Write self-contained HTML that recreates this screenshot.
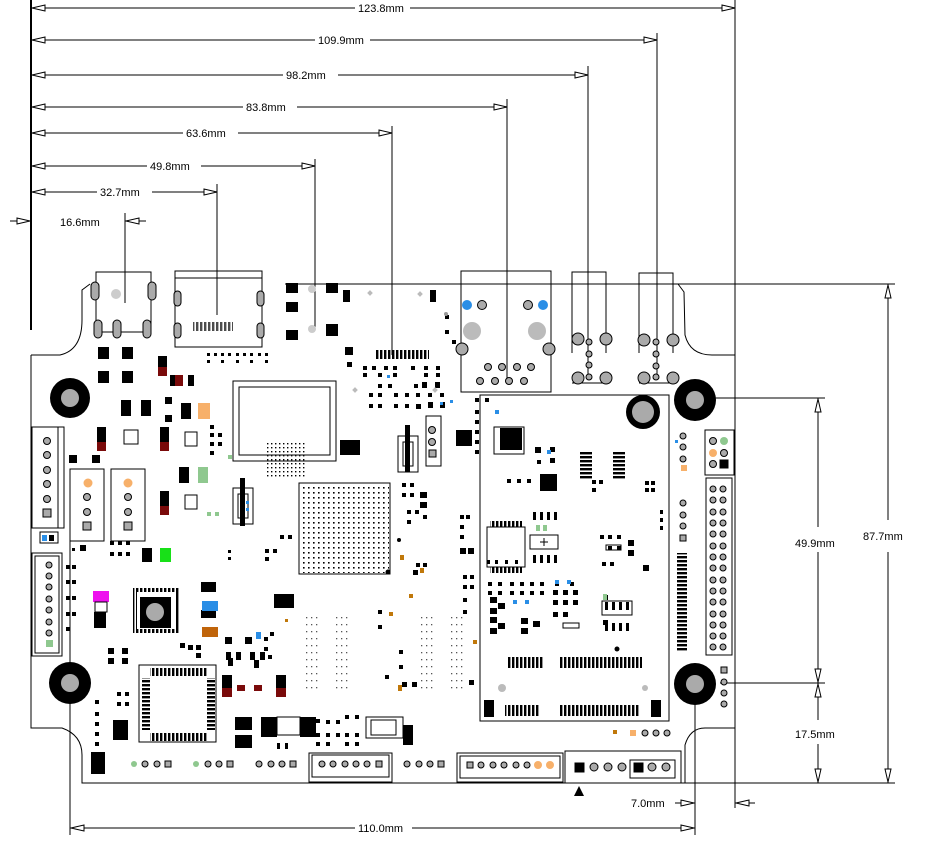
<!DOCTYPE html>
<html><head><meta charset="utf-8"><style>
html,body{margin:0;padding:0;background:#fff;width:927px;height:844px;overflow:hidden}
svg{display:block}
text{font-family:"Liberation Sans",sans-serif;font-size:11px;fill:#000}
</style></head><body>
<svg width="927" height="844" viewBox="0 0 927 844" xmlns="http://www.w3.org/2000/svg">
<defs>
<pattern id="bga" x="302" y="486" width="5" height="5" patternUnits="userSpaceOnUse"><rect x="1" y="1" width="1.6" height="1.6" fill="#000"/></pattern>
<pattern id="bga2" x="266" y="442" width="4" height="4" patternUnits="userSpaceOnUse"><rect x="1" y="1" width="1.4" height="1.4" fill="#000"/></pattern>
<pattern id="pin" x="0" y="0" width="4" height="4" patternUnits="userSpaceOnUse"><rect x="0" y="0" width="2.4" height="4" fill="#000"/></pattern>
<pattern id="pinv" x="0" y="0" width="4" height="4" patternUnits="userSpaceOnUse"><rect x="0" y="0" width="4" height="2.4" fill="#000"/></pattern>
<pattern id="dots" x="0" y="0" width="5" height="7" patternUnits="userSpaceOnUse"><rect x="1" y="1" width="1.3" height="1.3" fill="#555"/></pattern>
</defs>
<g stroke="#000" stroke-width="1" fill="none">
<!-- top dimension lines -->
<line x1="31" y1="0" x2="31" y2="330" stroke-width="2"/>
<line x1="31" y1="8" x2="355" y2="8"/><line x1="410" y1="8" x2="735" y2="8"/>
<line x1="31" y1="40" x2="315" y2="40"/><line x1="370" y1="40" x2="657" y2="40"/>
<line x1="31" y1="75" x2="283" y2="75"/><line x1="338" y1="75" x2="588" y2="75"/>
<line x1="31" y1="107" x2="243" y2="107"/><line x1="297" y1="107" x2="507" y2="107"/>
<line x1="31" y1="133" x2="183" y2="133"/><line x1="238" y1="133" x2="392" y2="133"/>
<line x1="31" y1="166" x2="147" y2="166"/><line x1="201" y1="166" x2="315" y2="166"/>
<line x1="31" y1="192" x2="97" y2="192"/><line x1="152" y1="192" x2="217" y2="192"/>
<line x1="10" y1="221" x2="31" y2="221"/><line x1="125" y1="221" x2="146" y2="221"/>
<line x1="735" y1="0" x2="735" y2="808"/>
<line x1="657" y1="33" x2="657" y2="378"/>
<line x1="588" y1="66" x2="588" y2="378"/>
<line x1="507" y1="99" x2="507" y2="380"/>
<line x1="392" y1="126" x2="392" y2="355"/>
<line x1="315" y1="159" x2="315" y2="330"/>
<line x1="217" y1="184" x2="217" y2="315"/>
<line x1="125" y1="213" x2="125" y2="303"/>
<!-- arrowheads -->
<g fill="#fff">
<path d="M32 8 L45 5 L45 11 Z"/><path d="M32 40 L45 37 L45 43 Z"/><path d="M32 75 L45 72 L45 78 Z"/><path d="M32 107 L45 104 L45 110 Z"/>
<path d="M32 133 L45 130 L45 136 Z"/><path d="M32 166 L45 163 L45 169 Z"/><path d="M32 192 L45 189 L45 195 Z"/>
<path d="M735 8 L722 5 L722 11 Z"/><path d="M657 40 L644 37 L644 43 Z"/><path d="M588 75 L575 72 L575 78 Z"/><path d="M507 107 L494 104 L494 110 Z"/>
<path d="M392 133 L379 130 L379 136 Z"/><path d="M315 166 L302 163 L302 169 Z"/><path d="M217 192 L204 189 L204 195 Z"/>
<path d="M30 221 L17 218 L17 224 Z"/><path d="M126 221 L139 218 L139 224 Z"/>
</g>
<!-- right dims -->
<line x1="285" y1="284" x2="895" y2="284"/>
<line x1="695" y1="398" x2="825" y2="398"/>
<line x1="720" y1="683" x2="825" y2="683"/>
<line x1="685" y1="783" x2="895" y2="783"/>
<line x1="888" y1="284" x2="888" y2="520"/><line x1="888" y1="552" x2="888" y2="783"/>
<line x1="818" y1="398" x2="818" y2="527"/><line x1="818" y1="552" x2="818" y2="720"/><line x1="818" y1="744" x2="818" y2="783"/>
<g fill="#fff">
<path d="M888 285 L885 298 L891 298 Z"/><path d="M888 782 L885 769 L891 769 Z"/>
<path d="M818 399 L815 412 L821 412 Z"/><path d="M818 682 L815 669 L821 669 Z"/>
<path d="M818 684 L815 697 L821 697 Z"/><path d="M818 782 L815 769 L821 769 Z"/>
</g>
<!-- bottom dims -->
<line x1="70" y1="495" x2="70" y2="835"/>
<line x1="695" y1="700" x2="695" y2="835"/>
<line x1="70" y1="828" x2="355" y2="828"/><line x1="412" y1="828" x2="695" y2="828"/>
<line x1="675" y1="803" x2="695" y2="803"/><line x1="735" y1="803" x2="755" y2="803"/>
<g fill="#fff">
<path d="M71 828 L84 825 L84 831 Z"/><path d="M694 828 L681 825 L681 831 Z"/>
<path d="M694 803 L681 800 L681 806 Z"/><path d="M736 803 L749 800 L749 806 Z"/>
</g>
<!-- board outline -->
<path d="M31 355 L60 355 Q82 350 82 320 L82 290 L90 284" />
<path d="M678 284 L684 292 L685 335 Q690 355 712 355 L735 355"/>
<path d="M31 355 L31 728 L62 728 Q82 735 82 755 L82 783 L685 783 L685 745 Q690 728 705 728 L735 728"/>
</g>
<g>
<text x="358" y="12">123.8mm</text><text x="318" y="44">109.9mm</text><text x="286" y="79">98.2mm</text>
<text x="246" y="111">83.8mm</text><text x="186" y="137">63.6mm</text><text x="150" y="170">49.8mm</text>
<text x="100" y="196">32.7mm</text><text x="60" y="226">16.6mm</text>
<text x="863" y="540">87.7mm</text><text x="795" y="547">49.9mm</text><text x="795" y="738">17.5mm</text>
<text x="358" y="832">110.0mm</text><text x="631" y="807">7.0mm</text>
</g>

<!-- ===== components ===== -->
<g stroke="#000" fill="none">
<!-- USB top left -->
<rect x="96" y="272" width="55" height="60"/>
<rect x="175" y="271" width="87" height="76"/><line x1="175" y1="278" x2="262" y2="278"/>
<!-- ethernet -->
<rect x="461" y="271" width="90" height="121"/>
<!-- audio jacks -->
<path d="M572 353 L572 272 L606 272 L606 353 M572 383 L606 383"/>
<path d="M639 353 L639 273 L673 273 L673 353 M639 383 L673 383"/>
<!-- emmc -->
<rect x="233" y="381" width="103" height="80"/><rect x="239" y="387" width="91" height="68"/>
<!-- BGA -->
<rect x="299" y="483" width="91" height="91"/>
<!-- module -->
<rect x="480" y="395" width="189" height="326"/>
<!-- left connectors -->
<rect x="32" y="427" width="32" height="101"/><rect x="32" y="427" width="26" height="101"/>
<rect x="70" y="469" width="34" height="72"/><rect x="111" y="469" width="34" height="72"/>
<rect x="32" y="553" width="30" height="103"/><rect x="35" y="556" width="24" height="97"/>
<!-- QFP -->
<rect x="139" y="665" width="77" height="77"/>
<!-- bottom connectors -->
<rect x="309" y="753" width="83" height="29"/><rect x="312" y="755" width="77" height="22"/>
<rect x="457" y="753" width="106" height="29"/><rect x="460" y="756" width="100" height="22"/>
<rect x="565" y="751" width="116" height="32"/><rect x="630" y="760" width="45" height="18"/>
<!-- right headers -->
<rect x="705" y="430" width="29" height="45"/><rect x="706" y="478" width="26" height="177"/>
<!-- switches -->
<rect x="398" y="436" width="20" height="36"/><rect x="403" y="442" width="10" height="24"/>
<rect x="233" y="488" width="20" height="36"/><rect x="238" y="494" width="10" height="24"/>
<rect x="426" y="416" width="15" height="50"/>
<rect x="366" y="717" width="37" height="21"/>
</g>

<!-- BGA dot fields -->
<rect x="300" y="484" width="89" height="89" fill="url(#bga)"/>
<rect x="265" y="441" width="40" height="37" fill="url(#bga2)"/>
<rect x="305" y="615" width="15" height="75" fill="url(#dots)"/>
<rect x="333" y="615" width="15" height="75" fill="url(#dots)"/>
<rect x="420" y="615" width="15" height="75" fill="url(#dots)"/>
<rect x="448" y="615" width="15" height="75" fill="url(#dots)"/>

<!-- mounting holes -->
<g>
<circle cx="70" cy="398" r="20" fill="#000"/><circle cx="70" cy="398" r="9" fill="#aaa"/>
<circle cx="695" cy="400" r="21" fill="#000"/><circle cx="695" cy="400" r="9" fill="#aaa"/>
<circle cx="70" cy="683" r="21" fill="#000"/><circle cx="70" cy="683" r="9" fill="#aaa"/>
<circle cx="695" cy="684" r="21" fill="#000"/><circle cx="695" cy="684" r="9" fill="#aaa"/>
<circle cx="643" cy="412" r="17" fill="#000"/><circle cx="643" cy="412" r="11" fill="#aaa"/>
</g>

<!-- QFN / QFP -->
<rect x="133" y="588" width="46" height="45" fill="url(#pin)" stroke="none"/>
<rect x="137" y="592" width="38" height="37" fill="#fff"/>
<rect x="140" y="597" width="31" height="31" fill="#000"/><circle cx="155" cy="612" r="9" fill="#aaa"/>
<rect x="150" y="668" width="58" height="8" fill="url(#pin)"/>
<rect x="150" y="733" width="58" height="8" fill="url(#pin)"/>
<rect x="142" y="678" width="8" height="52" fill="url(#pinv)"/>
<rect x="207" y="678" width="8" height="52" fill="url(#pinv)"/>
<rect x="500" y="428" width="22" height="22" fill="#000"/>
<rect x="487" y="527" width="38" height="40" fill="none" stroke="#000"/>
<rect x="490" y="521" width="32" height="6" fill="url(#pin)"/><rect x="490" y="567" width="32" height="6" fill="url(#pin)"/>
<rect x="580" y="452" width="12" height="28" fill="url(#pinv)"/><rect x="613" y="452" width="12" height="28" fill="url(#pinv)"/>
<!-- module connectors -->
<rect x="507" y="657" width="37" height="11" fill="url(#pin)"/><rect x="560" y="657" width="82" height="11" fill="url(#pin)"/>
<rect x="505" y="705" width="35" height="11" fill="url(#pin)"/><rect x="560" y="705" width="80" height="11" fill="url(#pin)"/>
<rect x="484" y="700" width="10" height="17" fill="#000"/><rect x="651" y="700" width="10" height="17" fill="#000"/>
<circle cx="502" cy="688" r="4" fill="#bbb"/><circle cx="645" cy="688" r="3" fill="#bbb"/>
<rect x="375" y="350" width="54" height="9" fill="url(#pin)"/>
<rect x="193" y="322" width="40" height="9" fill="url(#pin)" opacity=".7"/>
<rect x="677" y="553" width="10" height="98" fill="url(#pinv)"/>

<!-- big black parts -->
<g fill="#000">
<rect x="98" y="347" width="11" height="12"/><rect x="122" y="347" width="11" height="12"/>
<rect x="98" y="371" width="11" height="12"/><rect x="122" y="371" width="11" height="12"/>
<rect x="286" y="283" width="12" height="10"/><rect x="326" y="283" width="12" height="10"/>
<rect x="286" y="302" width="12" height="10"/><rect x="326" y="324" width="12" height="12"/>
<rect x="286" y="330" width="12" height="10"/><rect x="343" y="290" width="7" height="12"/>
<rect x="430" y="290" width="6" height="12"/><rect x="345" y="347" width="8" height="8"/>
<rect x="121" y="400" width="10" height="16"/><rect x="141" y="400" width="10" height="16"/>
<rect x="181" y="403" width="10" height="16"/><rect x="165" y="397" width="7" height="7"/><rect x="165" y="415" width="7" height="7"/>
<rect x="179" y="467" width="10" height="16"/><rect x="69" y="455" width="8" height="8"/><rect x="92" y="455" width="8" height="8"/>
<rect x="142" y="548" width="10" height="14"/><rect x="94" y="612" width="12" height="8"/>
<rect x="94" y="620" width="12" height="8"/><rect x="201" y="582" width="15" height="10"/><rect x="201" y="610" width="15" height="8"/>
<rect x="274" y="594" width="20" height="14"/><rect x="235" y="717" width="17" height="13"/><rect x="235" y="735" width="17" height="13"/>
<rect x="261" y="717" width="16" height="20"/><rect x="300" y="717" width="16" height="20"/><rect x="277" y="717" width="23" height="18" fill="#fff" stroke="#000"/>
<rect x="403" y="725" width="10" height="20"/><rect x="340" y="440" width="20" height="15"/><rect x="456" y="430" width="16" height="16"/>
<rect x="540" y="474" width="17" height="17"/><rect x="91" y="752" width="14" height="22"/><rect x="113" y="720" width="15" height="20"/>
<rect x="405" y="425" width="5" height="47"/><rect x="240" y="478" width="5" height="48"/>
<rect x="347" y="362" width="5" height="5"/>
</g>
<!-- coloured parts -->
<g>
<rect x="158" y="356" width="9" height="20" fill="#000"/><rect x="158" y="367" width="9" height="9" fill="#7a0a0a"/>
<rect x="170" y="375" width="24" height="11" fill="#000"/><rect x="175" y="375" width="8" height="11" fill="#7a0a0a"/><rect x="183" y="375" width="5" height="11" fill="#fff"/>
<rect x="198" y="403" width="12" height="16" fill="#f7b06a"/>
<rect x="198" y="467" width="10" height="16" fill="#8fc88f"/>
<rect x="97" y="427" width="9" height="23" fill="#000"/><rect x="97" y="442" width="9" height="9" fill="#7a0a0a"/>
<rect x="160" y="427" width="9" height="23" fill="#000"/><rect x="160" y="442" width="9" height="9" fill="#7a0a0a"/>
<rect x="160" y="491" width="9" height="23" fill="#000"/><rect x="160" y="506" width="9" height="9" fill="#7a0a0a"/>
<rect x="160" y="548" width="11" height="14" fill="#18e018"/>
<rect x="93" y="591" width="16" height="11" fill="#ee10ee"/>
<rect x="202" y="601" width="16" height="10" fill="#2a8ee6"/>
<rect x="202" y="627" width="16" height="10" fill="#c0640a"/>
<rect x="222" y="675" width="10" height="22" fill="#000"/><rect x="222" y="688" width="10" height="9" fill="#7a0a0a"/>
<rect x="276" y="675" width="10" height="22" fill="#000"/><rect x="276" y="688" width="10" height="9" fill="#7a0a0a"/>
<rect x="237" y="685" width="8" height="6" fill="#7a0a0a"/><rect x="254" y="685" width="8" height="6" fill="#7a0a0a"/>
<circle cx="467" cy="305" r="5" fill="#2a8ee6"/><circle cx="543" cy="305" r="5" fill="#2a8ee6"/>
<circle cx="88" cy="483" r="4.5" fill="#f7b06a"/><circle cx="128" cy="483" r="4.5" fill="#f7b06a"/>
<rect x="681" y="465" width="6" height="6" fill="#f7b06a"/><rect x="630" y="730" width="6" height="6" fill="#f7b06a"/>
<circle cx="538" cy="765" r="4" fill="#f7b06a"/><circle cx="550" cy="765" r="4" fill="#f7b06a"/>
<circle cx="713" cy="453" r="4" fill="#f7b06a"/><circle cx="724" cy="441" r="4" fill="#8fc88f"/>
<rect x="46" y="640" width="7" height="7" fill="#8fc88f"/>
<rect x="42" y="535" width="5" height="6" fill="#2a8ee6"/><rect x="49" y="535" width="5" height="6" fill="#000"/>
</g>
<!-- gray pins -->
<g fill="#aaa" stroke="#000" stroke-width="1">
<rect x="91" y="282" width="8" height="18" rx="4"/><rect x="148" y="282" width="8" height="18" rx="4"/>
<rect x="94" y="320" width="8" height="18" rx="4"/><rect x="113" y="320" width="8" height="18" rx="4"/><rect x="143" y="320" width="8" height="18" rx="4"/>
<rect x="174" y="291" width="7" height="15" rx="3.5"/><rect x="257" y="291" width="7" height="15" rx="3.5"/>
<rect x="174" y="323" width="7" height="15" rx="3.5"/><rect x="257" y="323" width="7" height="15" rx="3.5"/>
<circle cx="482" cy="305" r="4.5"/><circle cx="528" cy="305" r="4.5"/>
<circle cx="462" cy="349" r="6"/><circle cx="549" cy="349" r="6"/>
<circle cx="578" cy="339" r="6"/><circle cx="606" cy="339" r="6"/><circle cx="578" cy="378" r="6"/><circle cx="606" cy="378" r="6"/>
<circle cx="644" cy="340" r="6"/><circle cx="673" cy="340" r="6"/><circle cx="644" cy="378" r="6"/><circle cx="673" cy="378" r="6"/>
<circle cx="589" cy="342" r="3"/><circle cx="589" cy="354" r="3"/><circle cx="589" cy="365" r="3"/><circle cx="589" cy="377" r="3"/>
<circle cx="656" cy="342" r="3"/><circle cx="656" cy="354" r="3"/><circle cx="656" cy="366" r="3"/><circle cx="656" cy="377" r="3"/>
<circle cx="488" cy="367" r="3.5"/><circle cx="502" cy="367" r="3.5"/><circle cx="517" cy="367" r="3.5"/><circle cx="531" cy="367" r="3.5"/>
<circle cx="480" cy="381" r="3.5"/><circle cx="495" cy="381" r="3.5"/><circle cx="509" cy="381" r="3.5"/><circle cx="524" cy="381" r="3.5"/>
<circle cx="47" cy="441" r="3.5"/><circle cx="47" cy="455" r="3.5"/><circle cx="47" cy="470" r="3.5"/><circle cx="47" cy="484" r="3.5"/><circle cx="47" cy="499" r="3.5"/><rect x="43" y="509" width="8" height="8"/>
<circle cx="87" cy="497" r="3.5"/><circle cx="87" cy="512" r="3.5"/><rect x="83" y="522" width="8" height="8"/>
<circle cx="128" cy="497" r="3.5"/><circle cx="128" cy="512" r="3.5"/><rect x="124" y="522" width="8" height="8"/>
<circle cx="49" cy="565" r="3"/><circle cx="49" cy="576" r="3"/><circle cx="49" cy="587" r="3"/><circle cx="49" cy="599" r="3"/><circle cx="49" cy="610" r="3"/><circle cx="49" cy="622" r="3"/><circle cx="49" cy="633" r="3"/>
<circle cx="432" cy="430" r="3.5"/><circle cx="432" cy="442" r="3.5"/><rect x="429" y="450" width="7" height="7"/>
<circle cx="312" cy="289" r="4" fill="#ccc" stroke="none"/><circle cx="312" cy="329" r="4" fill="#ccc" stroke="none"/>
<circle cx="116" cy="294" r="5" fill="#ccc" stroke="none"/>
<circle cx="472" cy="331" r="9" fill="#bbb" stroke="none"/><circle cx="537" cy="331" r="9" fill="#bbb" stroke="none"/>
<circle cx="145" cy="764" r="3"/><circle cx="157" cy="764" r="3"/><rect x="165" y="761" width="6" height="6"/>
<circle cx="208" cy="764" r="3"/><circle cx="219" cy="764" r="3"/><rect x="227" y="761" width="6" height="6"/>
<circle cx="259" cy="764" r="3"/><circle cx="271" cy="764" r="3"/><circle cx="282" cy="764" r="3"/><rect x="290" y="761" width="6" height="6"/>
<circle cx="322" cy="764" r="3"/><circle cx="333" cy="764" r="3"/><circle cx="345" cy="764" r="3"/><circle cx="356" cy="764" r="3"/><circle cx="367" cy="764" r="3"/><rect x="376" y="761" width="6" height="6"/>
<circle cx="407" cy="764" r="3"/><circle cx="419" cy="764" r="3"/><circle cx="430" cy="764" r="3"/><rect x="438" y="761" width="6" height="6"/>
<rect x="467" y="762" width="6" height="6"/><circle cx="481" cy="765" r="3"/><circle cx="493" cy="765" r="3"/><circle cx="504" cy="765" r="3"/><circle cx="516" cy="765" r="3"/><circle cx="527" cy="765" r="3"/>
<rect x="575" y="763" width="9" height="9" fill="#000"/><circle cx="594" cy="767" r="4"/><circle cx="608" cy="767" r="4"/><circle cx="622" cy="767" r="4"/><rect x="634" y="763" width="9" height="9" fill="#000"/><circle cx="652" cy="767" r="4"/><circle cx="666" cy="767" r="4"/>
<circle cx="645" cy="733" r="3"/><circle cx="656" cy="733" r="3"/><circle cx="667" cy="733" r="3"/>
<circle cx="683" cy="436" r="3"/><circle cx="683" cy="447" r="3"/><circle cx="683" cy="459" r="3"/>
<circle cx="683" cy="503" r="3"/><circle cx="683" cy="515" r="3"/><circle cx="683" cy="526" r="3"/><rect x="680" y="535" width="6" height="6"/>
<rect x="721" y="667" width="6" height="6"/><circle cx="724" cy="682" r="3"/><circle cx="724" cy="693" r="3"/><circle cx="724" cy="704" r="3"/>
<circle cx="713" cy="441" r="3.5"/><circle cx="724" cy="453" r="3.5"/><circle cx="713" cy="464" r="3.5"/><rect x="720" y="460" width="8" height="8" fill="#000"/>
</g>
<!-- 2x20 header pins -->
<g fill="#aaa" stroke="#000">
<circle cx="713" cy="489" r="3"/><circle cx="723" cy="489" r="3"/><circle cx="713" cy="500" r="3"/><circle cx="723" cy="500" r="3"/>
<circle cx="713" cy="512" r="3"/><circle cx="723" cy="512" r="3"/><circle cx="713" cy="523" r="3"/><circle cx="723" cy="523" r="3"/>
<circle cx="713" cy="534" r="3"/><circle cx="723" cy="534" r="3"/><circle cx="713" cy="546" r="3"/><circle cx="723" cy="546" r="3"/>
<circle cx="713" cy="557" r="3"/><circle cx="723" cy="557" r="3"/><circle cx="713" cy="568" r="3"/><circle cx="723" cy="568" r="3"/>
<circle cx="713" cy="580" r="3"/><circle cx="723" cy="580" r="3"/><circle cx="713" cy="591" r="3"/><circle cx="723" cy="591" r="3"/>
<circle cx="713" cy="602" r="3"/><circle cx="723" cy="602" r="3"/><circle cx="713" cy="614" r="3"/><circle cx="723" cy="614" r="3"/>
<circle cx="713" cy="625" r="3"/><circle cx="723" cy="625" r="3"/><circle cx="713" cy="636" r="3"/><circle cx="723" cy="636" r="3"/>
<circle cx="713" cy="647" r="3"/><circle cx="723" cy="647" r="3"/>
</g>
<path d="M579 786 L574 796 L584 796 Z" fill="#000"/>

<!-- scattered small SMD -->
<g fill="#000">
<rect x="207" y="353" width="3" height="3"/><rect x="214" y="353" width="3" height="3"/><rect x="221" y="353" width="3" height="3"/><rect x="228" y="353" width="3" height="3"/><rect x="236" y="353" width="3" height="3"/><rect x="243" y="353" width="3" height="3"/><rect x="250" y="353" width="3" height="3"/><rect x="258" y="353" width="3" height="3"/><rect x="265" y="353" width="3" height="3"/>
<rect x="207" y="360" width="3" height="3"/><rect x="221" y="360" width="3" height="3"/><rect x="236" y="360" width="3" height="3"/><rect x="250" y="360" width="3" height="3"/><rect x="265" y="360" width="3" height="3"/>
<rect x="363" y="366" width="4" height="4"/><rect x="372" y="366" width="4" height="4"/><rect x="384" y="366" width="4" height="4"/><rect x="393" y="366" width="4" height="4"/><rect x="411" y="366" width="4" height="4"/><rect x="424" y="366" width="4" height="4"/><rect x="436" y="366" width="4" height="4"/>
<rect x="363" y="373" width="4" height="4"/><rect x="378" y="373" width="4" height="4"/><rect x="393" y="373" width="4" height="4"/><rect x="424" y="373" width="4" height="4"/><rect x="436" y="373" width="4" height="4"/>
<rect x="378" y="384" width="4" height="4"/><rect x="388" y="384" width="4" height="4"/><rect x="414" y="384" width="4" height="4"/><rect x="422" y="382" width="5" height="6"/><rect x="435" y="382" width="5" height="6"/>
<rect x="369" y="393" width="4" height="4"/><rect x="378" y="393" width="4" height="4"/><rect x="394" y="393" width="4" height="4"/><rect x="405" y="393" width="4" height="4"/><rect x="416" y="393" width="4" height="4"/><rect x="428" y="393" width="4" height="4"/><rect x="440" y="393" width="4" height="4"/>
<rect x="369" y="404" width="4" height="4"/><rect x="378" y="404" width="4" height="4"/><rect x="394" y="404" width="4" height="4"/><rect x="405" y="404" width="4" height="4"/><rect x="416" y="404" width="5" height="5"/><rect x="428" y="402" width="5" height="6"/><rect x="440" y="402" width="5" height="6"/>
<rect x="445" y="315" width="4" height="4"/><rect x="445" y="330" width="4" height="4"/><rect x="452" y="340" width="4" height="4"/>
<rect x="475" y="398" width="4" height="4"/><rect x="485" y="398" width="4" height="4"/><rect x="475" y="410" width="4" height="4"/><rect x="475" y="420" width="4" height="4"/><rect x="475" y="430" width="4" height="4"/><rect x="475" y="440" width="4" height="4"/><rect x="475" y="450" width="4" height="4"/>
<rect x="210" y="425" width="4" height="4"/><rect x="210" y="433" width="4" height="4"/><rect x="218" y="433" width="4" height="4"/><rect x="210" y="442" width="4" height="4"/><rect x="218" y="442" width="4" height="4"/><rect x="210" y="451" width="4" height="4"/>
<rect x="110" y="541" width="4" height="4"/><rect x="118" y="541" width="4" height="4"/><rect x="126" y="541" width="4" height="4"/><rect x="110" y="552" width="4" height="4"/><rect x="118" y="552" width="4" height="4"/><rect x="126" y="552" width="4" height="4"/>
<rect x="66" y="565" width="4" height="4"/><rect x="72" y="565" width="4" height="4"/><rect x="66" y="580" width="4" height="4"/><rect x="72" y="580" width="4" height="4"/><rect x="66" y="596" width="4" height="4"/><rect x="72" y="596" width="4" height="4"/><rect x="66" y="612" width="4" height="4"/><rect x="72" y="612" width="4" height="4"/><rect x="66" y="627" width="4" height="4"/>
<rect x="80" y="545" width="6" height="6"/><rect x="72" y="548" width="3" height="3"/>
<rect x="108" y="648" width="6" height="6"/><rect x="122" y="648" width="6" height="6"/><rect x="108" y="658" width="6" height="6"/><rect x="122" y="658" width="6" height="6"/>
<rect x="180" y="643" width="5" height="5"/><rect x="188" y="645" width="5" height="5"/><rect x="196" y="645" width="5" height="5"/><rect x="196" y="653" width="5" height="5"/>
<rect x="225" y="637" width="7" height="7"/><rect x="245" y="637" width="7" height="7"/><rect x="264" y="637" width="4" height="4"/><rect x="270" y="632" width="4" height="4"/><rect x="264" y="647" width="4" height="4"/>
<rect x="226" y="652" width="5" height="8"/><rect x="236" y="652" width="5" height="8"/><rect x="250" y="652" width="5" height="8"/><rect x="260" y="652" width="5" height="8"/><rect x="268" y="655" width="4" height="4"/>
<rect x="228" y="658" width="5" height="8"/><rect x="254" y="660" width="5" height="8"/>
<rect x="378" y="625" width="4" height="4"/><rect x="378" y="610" width="4" height="4"/><rect x="399" y="650" width="4" height="4"/><rect x="399" y="665" width="4" height="4"/><rect x="385" y="675" width="4" height="4"/>
<rect x="402" y="682" width="5" height="5"/><rect x="412" y="682" width="5" height="5"/><rect x="469" y="680" width="5" height="5"/>
<rect x="316" y="719" width="4" height="4"/><rect x="326" y="720" width="4" height="4"/><rect x="336" y="720" width="4" height="4"/><rect x="316" y="733" width="4" height="4"/><rect x="326" y="733" width="4" height="4"/><rect x="336" y="733" width="4" height="4"/><rect x="345" y="733" width="4" height="4"/><rect x="355" y="733" width="4" height="4"/>
<rect x="316" y="742" width="4" height="4"/><rect x="326" y="742" width="4" height="4"/><rect x="345" y="742" width="4" height="4"/><rect x="355" y="742" width="4" height="4"/>
<rect x="345" y="715" width="4" height="4"/><rect x="355" y="715" width="4" height="4"/>
<rect x="95" y="700" width="4" height="4"/><rect x="95" y="712" width="4" height="4"/><rect x="95" y="722" width="4" height="4"/><rect x="95" y="732" width="4" height="4"/><rect x="95" y="742" width="4" height="4"/>
<rect x="117" y="692" width="4" height="4"/><rect x="125" y="692" width="4" height="4"/><rect x="117" y="702" width="4" height="4"/><rect x="125" y="702" width="4" height="4"/>
<rect x="402" y="483" width="4" height="4"/><rect x="410" y="483" width="4" height="4"/><rect x="402" y="493" width="4" height="4"/><rect x="410" y="493" width="4" height="4"/><rect x="420" y="492" width="7" height="6"/><rect x="420" y="502" width="7" height="6"/>
<rect x="407" y="510" width="4" height="4"/><rect x="415" y="510" width="4" height="4"/><rect x="423" y="515" width="4" height="4"/><rect x="407" y="520" width="4" height="4"/>
<rect x="460" y="515" width="4" height="4"/><rect x="466" y="515" width="4" height="4"/><rect x="460" y="525" width="4" height="4"/><rect x="460" y="535" width="4" height="4"/><rect x="460" y="548" width="6" height="6"/><rect x="468" y="548" width="6" height="6"/>
<rect x="416" y="563" width="4" height="4"/><rect x="423" y="563" width="4" height="4"/><rect x="413" y="570" width="5" height="5"/>
<rect x="463" y="575" width="4" height="4"/><rect x="470" y="575" width="4" height="4"/><rect x="463" y="585" width="4" height="4"/><rect x="470" y="585" width="4" height="4"/><rect x="463" y="598" width="4" height="4"/><rect x="463" y="610" width="4" height="4"/>
<rect x="487" y="560" width="3" height="4"/><rect x="495" y="560" width="3" height="4"/><rect x="505" y="560" width="3" height="4"/><rect x="515" y="560" width="3" height="4"/>
<rect x="488" y="582" width="4" height="4"/><rect x="498" y="582" width="4" height="4"/><rect x="510" y="582" width="4" height="4"/><rect x="520" y="582" width="4" height="4"/><rect x="530" y="582" width="4" height="4"/><rect x="540" y="582" width="4" height="4"/><rect x="555" y="582" width="4" height="4"/><rect x="570" y="582" width="4" height="4"/>
<rect x="488" y="591" width="4" height="4"/><rect x="498" y="591" width="4" height="4"/><rect x="510" y="591" width="4" height="4"/><rect x="520" y="591" width="4" height="4"/><rect x="530" y="591" width="4" height="4"/><rect x="540" y="591" width="4" height="4"/><rect x="553" y="590" width="5" height="5"/><rect x="563" y="590" width="5" height="5"/><rect x="573" y="590" width="5" height="5"/>
<rect x="553" y="600" width="5" height="5"/><rect x="563" y="600" width="5" height="5"/><rect x="573" y="600" width="5" height="5"/><rect x="553" y="612" width="5" height="5"/><rect x="563" y="612" width="5" height="5"/>
<rect x="490" y="597" width="7" height="6"/><rect x="498" y="603" width="7" height="6"/><rect x="490" y="608" width="7" height="6"/><rect x="490" y="617" width="7" height="6"/><rect x="498" y="623" width="7" height="6"/><rect x="490" y="628" width="7" height="6"/>
<rect x="521" y="618" width="7" height="6"/><rect x="533" y="621" width="7" height="6"/><rect x="521" y="628" width="7" height="6"/>
<rect x="507" y="479" width="4" height="4"/><rect x="517" y="479" width="4" height="4"/><rect x="527" y="479" width="4" height="4"/><rect x="537" y="460" width="4" height="4"/><rect x="535" y="447" width="6" height="6"/><rect x="550" y="447" width="5" height="5"/><rect x="550" y="458" width="5" height="5"/>
<rect x="592" y="480" width="4" height="4"/><rect x="599" y="480" width="4" height="4"/><rect x="592" y="488" width="4" height="4"/><rect x="645" y="481" width="4" height="4"/><rect x="651" y="481" width="4" height="4"/><rect x="645" y="488" width="4" height="4"/><rect x="651" y="488" width="4" height="4"/>
<rect x="600" y="535" width="4" height="4"/><rect x="608" y="535" width="4" height="4"/><rect x="617" y="535" width="4" height="4"/><rect x="608" y="546" width="4" height="4"/><rect x="617" y="546" width="4" height="4"/><rect x="628" y="540" width="6" height="6"/><rect x="628" y="550" width="6" height="6"/><rect x="643" y="565" width="6" height="6"/>
<rect x="602" y="562" width="4" height="4"/><rect x="610" y="562" width="4" height="4"/><rect x="603" y="595" width="5" height="5"/><rect x="603" y="620" width="5" height="5"/>
<rect x="605" y="602" width="3" height="8"/><rect x="612" y="602" width="3" height="8"/><rect x="619" y="602" width="3" height="8"/><rect x="626" y="602" width="3" height="8"/>
<rect x="605" y="623" width="3" height="8"/><rect x="612" y="623" width="3" height="8"/><rect x="619" y="623" width="3" height="8"/><rect x="626" y="623" width="3" height="8"/>
<rect x="660" y="510" width="3" height="4"/><rect x="660" y="518" width="3" height="4"/><rect x="660" y="526" width="3" height="4"/>
<rect x="533" y="512" width="3" height="8"/><rect x="540" y="512" width="3" height="8"/><rect x="547" y="512" width="3" height="8"/><rect x="554" y="512" width="3" height="8"/>
<rect x="533" y="555" width="3" height="8"/><rect x="540" y="555" width="3" height="8"/><rect x="547" y="555" width="3" height="8"/><rect x="554" y="555" width="3" height="8"/>
<circle cx="617" cy="649" r="2.5"/><circle cx="388" cy="572" r="2.5"/><circle cx="399" cy="540" r="2"/>
<rect x="280" y="535" width="4" height="4"/><rect x="288" y="535" width="4" height="4"/><rect x="265" y="549" width="4" height="4"/><rect x="273" y="549" width="4" height="4"/><rect x="265" y="557" width="4" height="4"/>
<rect x="228" y="550" width="3" height="3"/><rect x="228" y="557" width="3" height="3"/>
<rect x="277" y="743" width="3" height="6"/><rect x="285" y="743" width="3" height="6"/>
</g>
<!-- misc outlines -->
<g stroke="#000" fill="none">
<rect x="530" y="535" width="28" height="14"/><line x1="544" y1="538" x2="544" y2="546"/><line x1="540" y1="542" x2="548" y2="542"/>
<rect x="602" y="601" width="30" height="14"/>
<rect x="124" y="430" width="14" height="14"/><rect x="185" y="432" width="12" height="14"/><rect x="185" y="495" width="12" height="14"/>
<rect x="494" y="427" width="30" height="27"/>
<rect x="40" y="532" width="18" height="11"/>
<rect x="371" y="720" width="25" height="15"/>
<rect x="606" y="545" width="15" height="5"/><rect x="563" y="623" width="16" height="5"/>
<rect x="95" y="602" width="12" height="10" fill="#fff"/>
</g>
<g fill="#8fc88f"><rect x="228" y="455" width="4" height="4"/><rect x="207" y="512" width="4" height="4"/><rect x="215" y="512" width="4" height="4"/><rect x="536" y="525" width="4" height="6"/><rect x="543" y="525" width="4" height="6"/><circle cx="134" cy="764" r="3"/><circle cx="196" cy="764" r="3"/><rect x="603" y="594" width="4" height="6"/></g>
<g fill="#2a8ee6"><rect x="387" y="375" width="3" height="3"/><rect x="495" y="410" width="4" height="4"/><rect x="547" y="450" width="4" height="4"/><rect x="513" y="600" width="4" height="4"/><rect x="525" y="600" width="4" height="4"/><rect x="555" y="580" width="4" height="4"/><rect x="567" y="580" width="4" height="4"/><rect x="256" y="632" width="5" height="7"/><rect x="246" y="501" width="3" height="3"/><rect x="246" y="508" width="3" height="3"/><rect x="450" y="400" width="3" height="3"/><rect x="440" y="402" width="3" height="3"/><rect x="675" y="440" width="3" height="3"/></g>
<g fill="#c0780a"><rect x="398" y="685" width="4" height="6"/><rect x="420" y="568" width="4" height="5"/><rect x="400" y="555" width="4" height="5"/><rect x="285" y="619" width="3" height="3"/><rect x="389" y="612" width="4" height="4"/><rect x="473" y="640" width="4" height="4"/><rect x="409" y="594" width="4" height="4"/><rect x="613" y="730" width="4" height="4"/></g>
<g fill="#bbb"><rect x="418" y="292" width="4" height="4" transform="rotate(45 420 294)"/><rect x="353" y="388" width="4" height="4" transform="rotate(45 355 390)"/><rect x="368" y="291" width="4" height="4" transform="rotate(45 370 293)"/><rect x="433" y="388" width="4" height="4" transform="rotate(45 435 390)"/><circle cx="446" cy="314" r="2" fill="#999"/></g>
</svg>
</body></html>
